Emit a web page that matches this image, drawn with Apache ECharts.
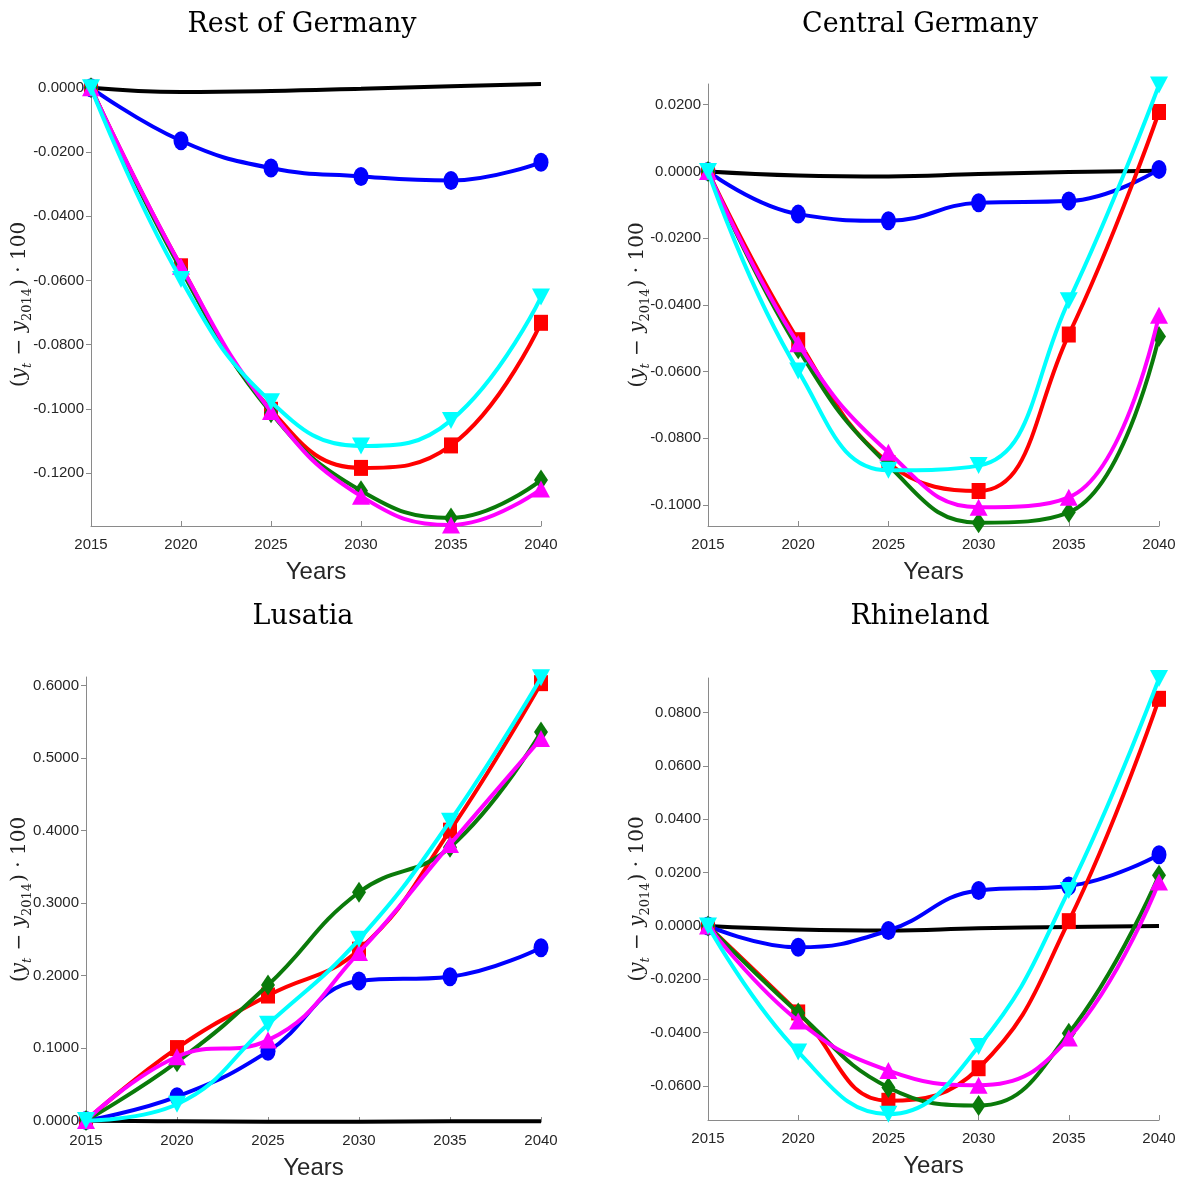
<!DOCTYPE html>
<html>
<head>
<meta charset="utf-8">
<script src="https://cdn.jsdelivr.net/npm/echarts@6/dist/echarts.min.js"></script>
<style>
html,body{margin:0;padding:0;background:#fff;}
#chart{width:1184px;height:1182px;}
</style>
</head>
<body>
<div id="chart"></div>
<script>
const years = [2015, 2020, 2025, 2030, 2035, 2040];
const panelTitles = ['Rest of Germany', 'Central Germany', 'Lusatia', 'Rhineland'];

// Rest of Germany
const restBlack   = [0, -0.0013, -0.0010, -0.0003, 0.0005, 0.0012];
const restBlue    = [0, -0.0165, -0.0250, -0.0276, -0.0289, -0.0232];
const restRed     = [0, -0.0556, -0.1003, -0.1184, -0.1114, -0.0732];
const restGreen   = [0, -0.0566, -0.1012, -0.1255, -0.1340, -0.1222];
const restMagenta = [0, -0.0556, -0.1008, -0.1272, -0.1362, -0.1250];
const restCyan    = [0, -0.0597, -0.0978, -0.1116, -0.1036, -0.0652];

// Central Germany
const centBlack   = [0, -0.0012, -0.0015, -0.0008, -0.0002, 0.0002];
const centBlue    = [0, -0.0128, -0.0148, -0.0094, -0.0089, 0.0006];
const centRed     = [0, -0.0506, -0.0874, -0.0958, -0.0489, 0.0178];
const centGreen   = [0, -0.0532, -0.0881, -0.1053, -0.1022, -0.0495];
const centMagenta = [0, -0.0517, -0.0842, -0.1007, -0.0977, -0.0431];
const centCyan    = [0, -0.0598, -0.0896, -0.0882, -0.0388, 0.0259];

// Lusatia
const lusBlack   = [0, -0.0010, -0.0015, -0.0015, -0.0010, -0.0010];
const lusBlue    = [0, 0.0330, 0.0955, 0.1925, 0.1985, 0.2385];
const lusRed     = [0, 0.1000, 0.1725, 0.2358, 0.4000, 0.6035];
const lusGreen   = [0, 0.0810, 0.1870, 0.3150, 0.3770, 0.5360];
const lusMagenta = [0, 0.0880, 0.1110, 0.2320, 0.3810, 0.5270];
const lusCyan    = [0, 0.0225, 0.1330, 0.2500, 0.4130, 0.6110];

// Rhineland
const rhiBlack   = [0, -0.0013, -0.0017, -0.0009, -0.0004, 0.0000];
const rhiBlue    = [0, -0.0080, -0.0017, 0.0133, 0.0150, 0.0267];
const rhiRed     = [0, -0.0324, -0.0655, -0.0533, 0.0018, 0.0851];
const rhiGreen   = [0, -0.0326, -0.0605, -0.0673, -0.0402, 0.0190];
const rhiMagenta = [0, -0.0356, -0.0542, -0.0597, -0.0420, 0.0165];
const rhiCyan    = [0, -0.0472, -0.0705, -0.0452, 0.0133, 0.0927];

// Tick labels
const xTicks = [2015, 2020, 2025, 2030, 2035, 2040];
const restTicks = [-0.12, -0.10, -0.08, -0.06, -0.04, -0.02, 0];
const centTicks = [-0.10, -0.08, -0.06, -0.04, -0.02, 0, 0.02];
const lusTicks  = [0, 0.1, 0.2, 0.3, 0.4, 0.5, 0.6];
const rhiTicks  = [-0.06, -0.04, -0.02, 0, 0.02, 0.04, 0.06, 0.08];

const panels = [
  {title: panelTitles[0], data: [restBlack, restBlue, restRed, restGreen, restMagenta, restCyan], ticks: restTicks,
   min: -0.1365, max: 0.0015, grid: {left: 91, top: 83, width: 450, height: 443}, titleX: 302, titleY: 25, nameGap: 57},
  {title: panelTitles[1], data: [centBlack, centBlue, centRed, centGreen, centMagenta, centCyan], ticks: centTicks,
   min: -0.1063, max: 0.0262, grid: {left: 708, top: 84, width: 451, height: 442}, titleX: 920, titleY: 25, nameGap: 56},
  {title: panelTitles[2], data: [lusBlack, lusBlue, lusRed, lusGreen, lusMagenta, lusCyan], ticks: lusTicks,
   min: -0.002, max: 0.612, grid: {left: 86, top: 677, width: 455, height: 445}, titleX: 303, titleY: 617, nameGap: 52},
  {title: panelTitles[3], data: [rhiBlack, rhiBlue, rhiRed, rhiGreen, rhiMagenta, rhiCyan], ticks: rhiTicks,
   min: -0.0727, max: 0.0929, grid: {left: 708, top: 678, width: 451, height: 442}, titleX: 920, titleY: 617, nameGap: 56}
];

const styles = [
  {color: '#000000', symbol: 'none'},
  {color: '#0000ff', symbol: 'circle', size: [15, 19]},
  {color: '#ff0000', symbol: 'rect', size: [14, 16]},
  {color: '#0a7a0a', symbol: 'diamond', size: [14, 21]},
  {color: '#ff00ff', symbol: 'triangle', size: [18, 17]},
  {color: '#00ffff', symbol: 'triangle', size: [18, 17], rotate: 180}
];

const labelColor = '#262626';
const axisColor = '#8a8a8a';
const tickFont = "'Liberation Sans', Arial, sans-serif";
const grids = [], xAxes = [], yAxes = [], series = [], graphics = [];

panels.forEach((p, i) => {
  grids.push(Object.assign({containLabel: false}, p.grid));
  graphics.push({
    type: 'text', x: p.titleX, y: p.titleY,
    style: {text: p.title, fontFamily: 'DejaVu Serif', fontSize: 27, fill: '#000', align: 'center', verticalAlign: 'middle'}
  });
  xAxes.push({
    type: 'value', gridIndex: i, min: 2015, max: 2040, interval: 5,
    name: 'Years', nameLocation: 'middle', nameGap: 34, nameMoveOverlap: false,
    nameTextStyle: {fontFamily: tickFont, fontSize: 24, color: labelColor},
    axisLine: {show: true, onZero: false, lineStyle: {color: axisColor, width: 1}},
    axisTick: {show: true, inside: true, length: 5, lineStyle: {color: axisColor}},
    axisLabel: {fontFamily: tickFont, fontSize: 15, color: labelColor, margin: 11, formatter: v => String(v)},
    splitLine: {show: false}
  });
  yAxes.push({
    type: 'value', gridIndex: i, min: p.min, max: p.max,
    name: '{a|(}{i|y}{t|t}{a| − }{i|y}{s|2014}{a|) · 100}',
    nameLocation: 'middle', nameGap: p.nameGap, nameRotate: 90, nameMoveOverlap: false,
    nameTextStyle: {
      color: '#222',
      rich: {
        a: {fontFamily: 'DejaVu Serif', fontSize: 20, color: '#222', lineHeight: 28, verticalAlign: 'middle'},
        i: {fontFamily: 'DejaVu Serif', fontStyle: 'italic', fontSize: 20, color: '#222', lineHeight: 28, verticalAlign: 'middle'},
        t: {fontFamily: 'DejaVu Serif', fontStyle: 'italic', fontSize: 13, color: '#222', lineHeight: 28, verticalAlign: 'bottom', padding: [0, 1, 0, 0]},
        s: {fontFamily: 'DejaVu Serif', fontSize: 13, color: '#222', lineHeight: 28, verticalAlign: 'bottom', padding: [0, 1, 0, 0]}
      }
    },
    axisLine: {show: true, onZero: false, lineStyle: {color: axisColor, width: 1}},
    axisTick: {show: true, inside: false, length: 5, customValues: p.ticks, lineStyle: {color: axisColor}},
    axisLabel: {fontFamily: tickFont, fontSize: 15, color: labelColor, margin: 7,
      customValues: p.ticks, formatter: v => Number(v).toFixed(4)},
    splitLine: {show: false}
  });
  p.data.forEach((arr, k) => {
    const st = styles[k];
    series.push({
      type: 'line', xAxisIndex: i, yAxisIndex: i,
      data: years.map((y, j) => [y, arr[j]]),
      smooth: 0.45,
      symbol: st.symbol, symbolSize: st.size, symbolRotate: st.rotate || 0,
      showSymbol: st.symbol !== 'none',
      itemStyle: {color: st.color},
      lineStyle: {color: st.color, width: 4},
      z: 2 + k,
      animation: false,
      clip: true
    });
  });
});

const chart = echarts.init(document.getElementById('chart'), null, {renderer: 'canvas'});
chart.setOption({
  backgroundColor: '#ffffff',
  animation: false,
  grid: grids, xAxis: xAxes, yAxis: yAxes, series: series,
  graphic: graphics
});
</script>
</body>
</html>
